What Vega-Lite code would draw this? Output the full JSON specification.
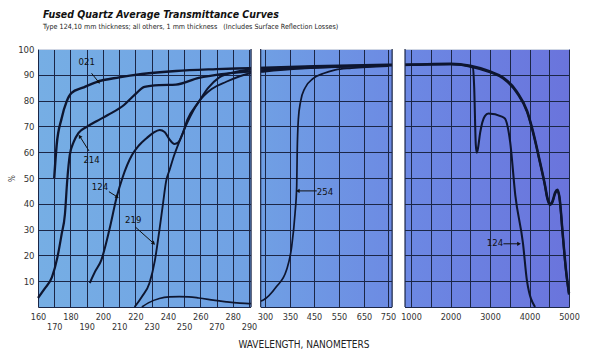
{
  "$schema": "https://vega.github.io/schema/vega-lite/v6.json",
  "width": 532,
  "height": 258,
  "autosize": "none",
  "padding": {"left": 38, "top": 49, "right": 30, "bottom": 50},
  "background": "white",
  "config": {
    "font": "DejaVu Sans Condensed, Liberation Sans, sans-serif",
    "view": {
      "stroke": null,
      "fill": {"gradient": "linear", "x1": 0, "x2": 1, "y1": 0, "y2": 0,
        "stops": [
          {"offset": 0, "color": "#76aee4"},
          {"offset": 0.4, "color": "#70a1e4"},
          {"offset": 0.7, "color": "#6c88e3"},
          {"offset": 1, "color": "#6a74dc"}
        ]}
    }
  },
  "title": {
    "text": "Fused Quartz Average Transmittance Curves",
    "subtitle": "Type 124,10 mm thickness; all others, 1 mm thickness\u00a0\u00a0\u00a0(Includes Surface Reflection Losses)",
    "anchor": "start",
    "frame": "group",
    "dx": 5,
    "offset": 14,
    "fontSize": 10.5,
    "fontStyle": "italic",
    "fontWeight": "bold",
    "color": "#111111",
    "subtitleFontSize": 7.1,
    "subtitleColor": "#222222",
    "subtitlePadding": 2
  },
  "datasets": {
    "curves": [
      {"s": "021", "x": 170, "y": 50}, {"s": "021", "x": 171.5, "y": 62.8}, {"s": "021", "x": 174.5, "y": 73}, {"s": "021", "x": 177.6, "y": 79.6}, {"s": "021", "x": 180.7, "y": 83}, {"s": "021", "x": 187.6, "y": 85}, {"s": "021", "x": 196, "y": 87.2}, {"s": "021", "x": 210, "y": 89}, {"s": "021", "x": 224, "y": 90.3}, {"s": "021", "x": 245, "y": 91.5}, {"s": "021", "x": 270, "y": 92.2}, {"s": "021", "x": 290, "y": 92.6}, {"s": "021", "x": 300, "y": 92.8}, {"s": "021", "x": 450, "y": 93.3}, {"s": "021", "x": 750, "y": 93.9}, {"s": "021", "x": 1000, "y": 94}, {"s": "021", "x": 2000, "y": 94.3}, {"s": "021", "x": 2500, "y": 93.5}, {"s": "021", "x": 3000, "y": 91.3}, {"s": "021", "x": 3330, "y": 89}, {"s": "021", "x": 3680, "y": 83.5}, {"s": "021", "x": 3940, "y": 76}, {"s": "021", "x": 4090, "y": 68}, {"s": "021", "x": 4270, "y": 56}, {"s": "021", "x": 4390, "y": 47.5}, {"s": "021", "x": 4450, "y": 42.6}, {"s": "021", "x": 4520, "y": 40}, {"s": "021", "x": 4580, "y": 41}, {"s": "021", "x": 4650, "y": 44.5}, {"s": "021", "x": 4710, "y": 45.5}, {"s": "021", "x": 4760, "y": 42.6}, {"s": "021", "x": 4840, "y": 28.7}, {"s": "021", "x": 4920, "y": 15}, {"s": "021", "x": 5000, "y": 5.4},
      {"s": "214", "x": 160, "y": 3.5}, {"s": "214", "x": 164, "y": 7}, {"s": "214", "x": 168.6, "y": 11.6}, {"s": "214", "x": 172, "y": 19.4}, {"s": "214", "x": 174.5, "y": 28}, {"s": "214", "x": 176.6, "y": 36}, {"s": "214", "x": 178, "y": 49}, {"s": "214", "x": 179.6, "y": 59}, {"s": "214", "x": 182, "y": 64}, {"s": "214", "x": 185, "y": 67.5}, {"s": "214", "x": 190, "y": 69.8}, {"s": "214", "x": 196, "y": 72}, {"s": "214", "x": 203, "y": 74.4}, {"s": "214", "x": 213, "y": 78.3}, {"s": "214", "x": 219.5, "y": 82.2}, {"s": "214", "x": 225.6, "y": 85.3}, {"s": "214", "x": 234.8, "y": 86}, {"s": "214", "x": 245, "y": 86.2}, {"s": "214", "x": 259, "y": 88.8}, {"s": "214", "x": 273, "y": 90.3}, {"s": "214", "x": 290, "y": 91.2}, {"s": "214", "x": 300, "y": 91.8}, {"s": "214", "x": 450, "y": 92.8}, {"s": "214", "x": 750, "y": 93.6}, {"s": "214", "x": 1000, "y": 93.8}, {"s": "214", "x": 2000, "y": 94.1}, {"s": "214", "x": 2500, "y": 93.2}, {"s": "214", "x": 3000, "y": 91}, {"s": "214", "x": 3330, "y": 88.6}, {"s": "214", "x": 3680, "y": 83}, {"s": "214", "x": 3940, "y": 75.5}, {"s": "214", "x": 4090, "y": 67.5}, {"s": "214", "x": 4270, "y": 55.5}, {"s": "214", "x": 4390, "y": 47}, {"s": "214", "x": 4450, "y": 42}, {"s": "214", "x": 4520, "y": 39.5}, {"s": "214", "x": 4580, "y": 40.5}, {"s": "214", "x": 4650, "y": 44}, {"s": "214", "x": 4710, "y": 45}, {"s": "214", "x": 4760, "y": 42}, {"s": "214", "x": 4840, "y": 28}, {"s": "214", "x": 4920, "y": 14.5}, {"s": "214", "x": 5000, "y": 4.8},
      {"s": "124", "x": 191.9, "y": 9.3}, {"s": "124", "x": 195, "y": 13.5}, {"s": "124", "x": 199, "y": 18.2}, {"s": "124", "x": 204, "y": 30}, {"s": "124", "x": 208.5, "y": 42.6}, {"s": "124", "x": 212, "y": 50}, {"s": "124", "x": 218, "y": 59}, {"s": "124", "x": 222, "y": 62.5}, {"s": "124", "x": 227, "y": 65.5}, {"s": "124", "x": 231, "y": 67.5}, {"s": "124", "x": 235, "y": 68.6}, {"s": "124", "x": 238, "y": 67.8}, {"s": "124", "x": 241, "y": 65}, {"s": "124", "x": 244, "y": 63.2}, {"s": "124", "x": 246.5, "y": 63.8}, {"s": "124", "x": 249, "y": 67}, {"s": "124", "x": 252, "y": 72.5}, {"s": "124", "x": 259, "y": 79.5}, {"s": "124", "x": 265, "y": 85}, {"s": "124", "x": 271.7, "y": 89}, {"s": "124", "x": 281, "y": 91}, {"s": "124", "x": 290, "y": 92}, {"s": "124", "x": 300, "y": 92.4}, {"s": "124", "x": 450, "y": 93.1}, {"s": "124", "x": 750, "y": 93.7}, {"s": "124", "x": 1000, "y": 93.9}, {"s": "124", "x": 2000, "y": 94.1}, {"s": "124", "x": 2400, "y": 93.6}, {"s": "124", "x": 2570, "y": 92.8}, {"s": "124", "x": 2600, "y": 85}, {"s": "124", "x": 2640, "y": 63}, {"s": "124", "x": 2665, "y": 59.8}, {"s": "124", "x": 2690, "y": 61}, {"s": "124", "x": 2750, "y": 67.5}, {"s": "124", "x": 2870, "y": 74}, {"s": "124", "x": 2960, "y": 75}, {"s": "124", "x": 3300, "y": 73.8}, {"s": "124", "x": 3380, "y": 73}, {"s": "124", "x": 3510, "y": 64}, {"s": "124", "x": 3640, "y": 43.4}, {"s": "124", "x": 3835, "y": 24.7}, {"s": "124", "x": 3937, "y": 10}, {"s": "124", "x": 4140, "y": 0},
      {"s": "219", "x": 219.5, "y": 0}, {"s": "219", "x": 224, "y": 4}, {"s": "219", "x": 228.7, "y": 9.3}, {"s": "219", "x": 232, "y": 18}, {"s": "219", "x": 234.8, "y": 29.8}, {"s": "219", "x": 237, "y": 40}, {"s": "219", "x": 239, "y": 49}, {"s": "219", "x": 241, "y": 53}, {"s": "219", "x": 244, "y": 59}, {"s": "219", "x": 247, "y": 64}, {"s": "219", "x": 252, "y": 71.5}, {"s": "219", "x": 259, "y": 79.5}, {"s": "219", "x": 267, "y": 84.5}, {"s": "219", "x": 276, "y": 87.3}, {"s": "219", "x": 290, "y": 90.5}, {"s": "219", "x": 300, "y": 91.3}, {"s": "219", "x": 450, "y": 92.7}, {"s": "219", "x": 750, "y": 93.5},
      {"s": "254", "x": 224, "y": 0}, {"s": "254", "x": 228, "y": 1.6}, {"s": "254", "x": 234.8, "y": 3.3}, {"s": "254", "x": 241, "y": 3.9}, {"s": "254", "x": 247, "y": 4}, {"s": "254", "x": 253, "y": 3.9}, {"s": "254", "x": 259, "y": 3.5}, {"s": "254", "x": 268, "y": 2.7}, {"s": "254", "x": 276, "y": 2}, {"s": "254", "x": 290, "y": 1.3}, {"s": "254", "x": 299, "y": 2.7}, {"s": "254", "x": 323, "y": 7.9}, {"s": "254", "x": 343, "y": 14.3}, {"s": "254", "x": 357, "y": 23.4}, {"s": "254", "x": 371, "y": 36.3}, {"s": "254", "x": 378, "y": 47}, {"s": "254", "x": 380, "y": 60}, {"s": "254", "x": 385, "y": 73}, {"s": "254", "x": 394, "y": 79.6}, {"s": "254", "x": 412, "y": 84.8}, {"s": "254", "x": 447, "y": 88.6}, {"s": "254", "x": 487, "y": 90.5}, {"s": "254", "x": 535, "y": 91.9}, {"s": "254", "x": 600, "y": 92.6}, {"s": "254", "x": 750, "y": 93.4}
    ],
    "labels": [
      {"label": "021", "x": 190, "y": 95},
      {"label": "214", "x": 193, "y": 57},
      {"label": "124", "x": 198.2, "y": 46.6},
      {"label": "219", "x": 218.7, "y": 33.7},
      {"label": "254", "x": 494, "y": 44.6},
      {"label": "124", "x": 3127, "y": 24.7}
    ],
    "arrows": [
      {"id": "a021", "x": 193, "y": 90.6, "x2": 197.2, "y2": 87.3},
      {"id": "a214", "x": 191.4, "y": 60.5, "x2": 185.9, "y2": 66},
      {"id": "a124", "x": 203.7, "y": 44.7, "x2": 208.5, "y2": 42.8},
      {"id": "a219", "x": 220, "y": 31, "x2": 231, "y2": 24.8},
      {"id": "a254", "x": 461, "y": 45, "x2": 385, "y2": 45},
      {"id": "a124r", "x": 3340, "y": 24.5, "x2": 3720, "y2": 24.5}
    ],
    "gaps": [
      {"x": 291.3, "x2": 297.3},
      {"x": 795, "x2": 935}
    ]
  },
  "layer": [
    {
      "data": {"name": "curves"},
      "mark": {"type": "line", "color": "#0e1630", "interpolate": "monotone"},
      "encoding": {
        "x": {
          "field": "x", "type": "quantitative",
          "scale": {"domain": [160, 290, 300, 350, 450, 550, 650, 750, 1000, 5000], "range": [0, 211, 227, 252, 276, 301, 326, 350, 373, 531], "nice": false, "zero": false},
          "axis": {
            "values": [160, 170, 180, 190, 200, 210, 220, 230, 240, 250, 260, 270, 280, 290, 300, 350, 450, 550, 650, 750, 1000, 1500, 2000, 2500, 3000, 3500, 4000, 4500, 5000],
            "tickCount": 100,
            "format": "d",
            "labelExpr": "indexof([1500,2500,3500,4500], datum.value) >= 0 ? '' : (datum.value < 295 && datum.value % 20 == 10 ? ['', datum.label] : datum.label)",
            "labelLineHeight": 10,
            "labelFlush": false,
            "labelOverlap": false,
            "labelFontSize": 9,
            "labelColor": "#333333",
            "labelPadding": 5,
            "ticks": false,
            "grid": true,
            "gridColor": "#1b2646",
            "gridWidth": 1,
            "domain": true,
            "domainColor": "#1b2646",
            "domainWidth": 1,
            "title": "WAVELENGTH, NANOMETERS",
            "titleFontSize": 10,
            "titleFontWeight": "normal",
            "titleColor": "#222222",
            "titlePadding": 8
          }
        },
        "y": {
          "field": "y", "type": "quantitative",
          "scale": {"domain": [0, 100], "nice": false},
          "axis": {
            "values": [10, 20, 30, 40, 50, 60, 70, 80, 90, 100],
            "tickCount": 100,
            "grid": true,
            "gridColor": {"condition": {"test": "datum.value == 100", "value": "#cfd6e4"}, "value": "#1b2646"},
            "gridWidth": 1,
            "domain": false,
            "ticks": false,
            "labelFontSize": 9.5,
            "labelColor": "#333333",
            "labelPadding": 4,
            "title": "%",
            "titleFontSize": 8,
            "titleFontWeight": "normal",
            "titleColor": "#333333",
            "titlePadding": 1
          }
        },
        "detail": {"field": "s", "type": "nominal"},
        "strokeWidth": {"field": "s", "type": "nominal", "scale": {"domain": ["021", "214", "124", "219", "254"], "range": [2.4, 1.7, 1.3, 1.4, 2]}, "legend": null}
      }
    },
    {
      "data": {"name": "gaps"},
      "mark": {"type": "rect", "color": "white"},
      "encoding": {
        "x": {"field": "x", "type": "quantitative"},
        "x2": {"field": "x2"},
        "y": {"datum": -1.5, "type": "quantitative"},
        "y2": {"datum": 100}
      }
    },
    {
      "data": {"name": "gaps"},
      "mark": {"type": "rule", "color": "#1b2646", "strokeWidth": 1.2},
      "encoding": {
        "x": {"field": "x", "type": "quantitative"},
        "y": {"datum": 0, "type": "quantitative"},
        "y2": {"datum": 100}
      }
    },
    {
      "data": {"name": "gaps"},
      "mark": {"type": "rule", "color": "#1b2646", "strokeWidth": 1.2},
      "encoding": {
        "x": {"field": "x2", "type": "quantitative"},
        "y": {"datum": 0, "type": "quantitative"},
        "y2": {"datum": 100}
      }
    },
    {
      "data": {"name": "labels"},
      "mark": {"type": "text", "fontSize": 9.5, "color": "#111111", "align": "center", "baseline": "middle"},
      "encoding": {
        "x": {"field": "x", "type": "quantitative"},
        "y": {"field": "y", "type": "quantitative"},
        "text": {"field": "label"}
      }
    },
    {
      "data": {"name": "arrows"},
      "mark": {"type": "rule", "color": "#111111", "strokeWidth": 1},
      "encoding": {
        "x": {"field": "x", "type": "quantitative"},
        "y": {"field": "y", "type": "quantitative"},
        "x2": {"field": "x2"},
        "y2": {"field": "y2"}
      }
    },
    {
      "data": {"name": "arrows"},
      "transform": [{"filter": "datum.id == 'a021'"}],
      "mark": {"type": "point", "shape": "triangle", "filled": true, "color": "#111111", "size": 18, "angle": 142, "opacity": 1},
      "encoding": {"x": {"field": "x2", "type": "quantitative"}, "y": {"field": "y2", "type": "quantitative"}}
    },
    {
      "data": {"name": "arrows"},
      "transform": [{"filter": "datum.id == 'a214'"}],
      "mark": {"type": "point", "shape": "triangle", "filled": true, "color": "#111111", "size": 18, "angle": 328, "opacity": 1},
      "encoding": {"x": {"field": "x2", "type": "quantitative"}, "y": {"field": "y2", "type": "quantitative"}}
    },
    {
      "data": {"name": "arrows"},
      "transform": [{"filter": "datum.id == 'a124'"}],
      "mark": {"type": "point", "shape": "triangle", "filled": true, "color": "#111111", "size": 18, "angle": 123, "opacity": 1},
      "encoding": {"x": {"field": "x2", "type": "quantitative"}, "y": {"field": "y2", "type": "quantitative"}}
    },
    {
      "data": {"name": "arrows"},
      "transform": [{"filter": "datum.id == 'a219'"}],
      "mark": {"type": "point", "shape": "triangle", "filled": true, "color": "#111111", "size": 18, "angle": 132, "opacity": 1},
      "encoding": {"x": {"field": "x2", "type": "quantitative"}, "y": {"field": "y2", "type": "quantitative"}}
    },
    {
      "data": {"name": "arrows"},
      "transform": [{"filter": "datum.id == 'a254'"}],
      "mark": {"type": "point", "shape": "triangle", "filled": true, "color": "#111111", "size": 18, "angle": 270, "opacity": 1},
      "encoding": {"x": {"field": "x2", "type": "quantitative"}, "y": {"field": "y2", "type": "quantitative"}}
    },
    {
      "data": {"name": "arrows"},
      "transform": [{"filter": "datum.id == 'a124r'"}],
      "mark": {"type": "point", "shape": "triangle", "filled": true, "color": "#111111", "size": 18, "angle": 90, "opacity": 1},
      "encoding": {"x": {"field": "x2", "type": "quantitative"}, "y": {"field": "y2", "type": "quantitative"}}
    }
  ]
}
